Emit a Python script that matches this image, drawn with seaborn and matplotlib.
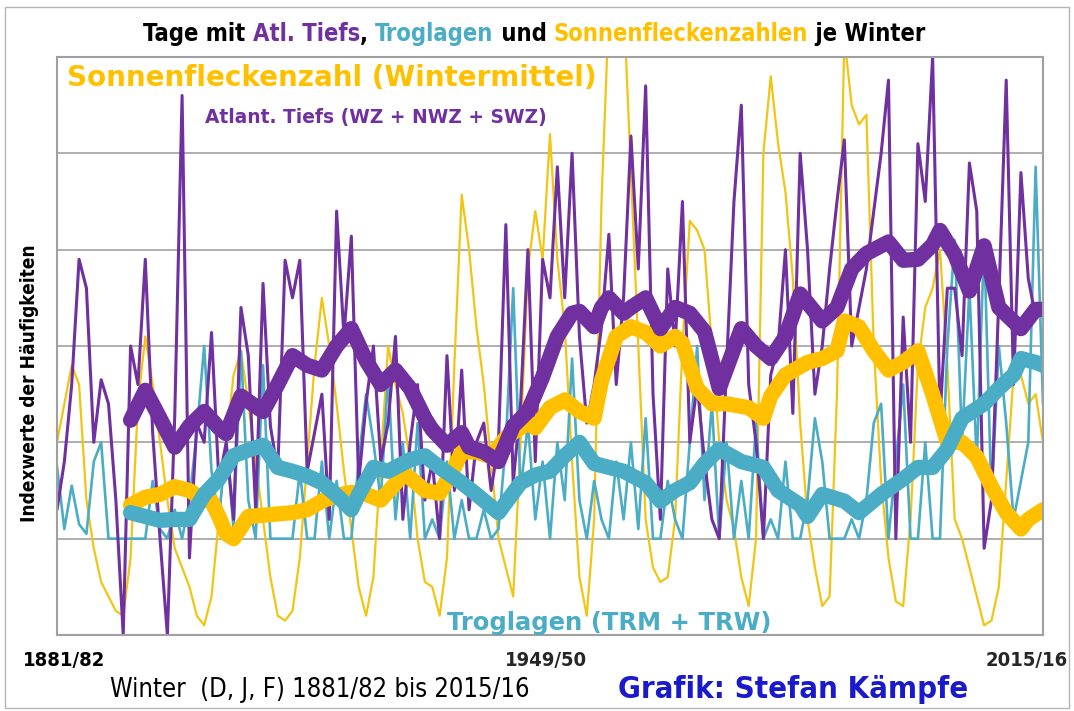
import numpy as np
import seaborn as sns
import matplotlib
matplotlib.use("Agg")
import matplotlib.pyplot as plt
from matplotlib.patches import Rectangle

# Winter (D, J, F) 1881/82 ... 2015/16, x = start year of the winter
jahre = np.arange(1881, 2016)

# thin lines, index values (grid lines every 10)
sonnenflecken = [
    20, 24, 28, 26, 14, 9, 5.5, 4, 2.5, 2,
    8, 24, 31, 26, 20, 14, 9, 7, 5, 2,
    1, 4, 12, 20, 27, 29.5, 24, 18, 12, 6,
    2, 1.5, 2.5, 8, 18, 28, 35, 30, 24, 17,
    11, 5, 2, 6, 18, 30, 26, 23, 18, 10,
    5.5, 5, 2, 8, 28, 45.7, 40, 32, 26, 18,
    10, 7, 4, 20, 38, 44, 39, 52, 39, 32,
    18, 6, 2, 12, 45, 65, 75, 66, 48, 30,
    12, 7, 5.5, 6, 12, 30, 43, 42, 40, 30,
    20, 14, 11, 6, 3, 10, 50, 58, 51, 46,
    37, 22, 12, 7, 3, 4, 25, 62, 55, 53,
    54, 30, 16, 8, 3.5, 3, 12, 28, 34, 36,
    40, 28, 12, 10, 7, 4, 1, 1.5, 5, 16,
    27, 27, 24, 25, 20,
]
atl_tiefs = [
    13, 18, 26, 39, 36, 20, 26.5, 24, 14, 0,
    30, 26, 39, 21, 10, 0, 22.7, 56, 8, 22,
    20, 31.4, 16, 20, 12, 34, 29, 13, 36.5, 21.7,
    17, 38.9, 35, 38.9, 17, 21, 25, 12, 44, 31,
    41.4, 15.8, 24, 30, 18, 22, 31, 12, 20, 26,
    14, 18, 10, 29, 15, 27.5, 13, 20, 22, 15,
    20, 42.6, 15.8, 24, 40, 18, 39, 35, 48.6, 35,
    50, 31, 22, 26, 32, 41.6, 26, 35, 51.8, 38,
    57, 25, 12, 38, 30, 45, 20, 26, 18, 12,
    10, 28, 45, 55, 26, 20, 10, 27, 30, 40,
    23, 50, 40, 25, 30, 38, 45, 51.4, 30, 34,
    38, 44, 50, 57.6, 10, 33, 20, 51, 45, 60,
    22.5, 36, 36, 29, 49, 44, 9, 14, 35, 57.6,
    26, 48, 37, 33, 34,
]
troglagen = [
    17.5, 11, 15.5, 11.5, 10.5, 18, 20, 10, 10, 10,
    10, 10, 10, 16, 11, 10, 13, 10, 14, 21,
    30, 17, 12, 20, 11, 29.5, 14, 10, 28, 10,
    10, 10, 10, 17, 10, 10, 18, 10, 16, 10,
    10, 18, 25, 20, 14, 27, 12, 20, 10, 22,
    10, 12, 10, 18, 10, 14, 10, 10, 13, 10,
    11, 20, 36, 15, 22, 12, 18, 10, 20, 14,
    28.7, 14, 10, 16, 12, 10, 18, 12, 20, 11,
    22.5, 10, 10, 16, 12, 10, 20, 30, 14, 24,
    10, 20, 10, 16, 10, 22, 10, 12, 10, 18,
    10, 10, 14, 22.5, 18, 10, 10, 10, 12, 10,
    14, 22, 24, 10, 18, 26, 10, 10, 20, 10,
    10, 30, 41, 20, 36, 18, 41, 14, 30, 22,
    12, 16, 20, 48.6, 24,
]

# thick smoothed lines (years after 1881)
atl_glatt_j = [10, 12, 14, 16, 18, 20, 22, 23, 25, 28, 30, 32, 34, 36, 38, 40, 42, 44, 46, 48,
               50, 51, 53, 55, 56, 58, 60, 62, 64, 66, 68, 70, 71, 73, 74, 75, 77, 78, 80, 82,
               84, 86, 88, 90, 93, 95, 97, 99, 101, 104, 106, 108, 110, 113, 115, 117, 119, 120,
               122, 124, 126, 128, 131, 133, 134]
atl_glatt = [22.3, 25.4, 22.5, 19.5, 21.7, 23.2, 21.5, 20.9, 24.8, 23.2, 26, 29, 28, 27.5, 30,
             31.8, 28.5, 26, 27.5, 25.6, 22.5, 21.3, 19.7, 21, 19.5, 19, 18, 21.7, 23.2, 26.8,
             31, 33.4, 33.6, 32, 34, 35, 33.4, 34, 35, 31.8, 34, 33.4, 31.5, 25.6, 31.8, 30,
             28.7, 31, 35.4, 32.6, 34, 38, 39.6, 40.8, 38.9, 39, 40.5, 42, 39.5, 35.7, 40.4,
             34, 31.8, 33.8, 33.8]
sonne_glatt_j = [10, 12, 14, 16, 18, 20, 21, 22, 23, 24, 26, 29, 32, 34, 36, 38, 40, 42, 44, 47,
                 48, 50, 52, 54, 55, 57, 59, 61, 64, 65, 67, 69, 71, 73, 74, 76, 78, 80, 82, 84,
                 85, 87, 89, 91, 94, 96, 97, 99, 102, 104, 106, 107, 109, 111, 113, 115, 117,
                 119, 121, 123, 125, 127, 129, 131, 132, 134]
sonne_glatt = [13.5, 14.3, 14.6, 15.4, 15, 14, 13.9, 12.3, 10.5, 10, 12.3, 12.5, 12.7, 13, 13.9,
               14.5, 14.8, 14.6, 14, 16.6, 16.3, 15, 14.7, 17.4, 19, 19, 18.5, 20.5, 22, 21.5,
               23.6, 24.4, 23.2, 22.5, 26.4, 31, 32, 31.4, 30, 31, 30.3, 25.6, 24, 24, 23.6,
               22.5, 24.8, 27, 28.3, 28.7, 29.5, 32.6, 32, 29.5, 27.5, 28.3, 29.5, 25, 20, 20,
               18.5, 15.4, 12.7, 11, 12, 13]
trog_glatt_j = [10, 12, 14, 16, 18, 20, 22, 24, 26, 28, 30, 32, 34, 36, 38, 40, 41, 43, 45, 48,
                50, 52, 55, 57, 60, 63, 65, 67, 69, 71, 73, 75, 77, 80, 82, 84, 86, 88, 90, 93,
                96, 98, 101, 102, 104, 107, 109, 112, 115, 117, 119, 121, 123, 126, 128, 130,
                131, 133, 134]
trog_glatt = [12.7, 12.3, 11.9, 12, 12, 14.6, 16.2, 18.6, 19.2, 19.7, 17.4, 17, 16.5, 15.8, 14.5,
              13, 14.6, 17.4, 17, 18.2, 18.6, 17.4, 15.8, 14.6, 12.7, 15.8, 16.6, 17, 18.6, 20,
              17.8, 17.4, 17, 15.8, 13.9, 15, 15.8, 17.8, 19.3, 18, 17.4, 15, 13.5, 12.3, 14.6,
              13.9, 12.7, 14.6, 16.2, 17.4, 17.4, 19.3, 22.5, 24, 25.6, 27, 28.7, 28.3, 28]

LILA = "#7030a0"
TUERKIS = "#4bacc6"
GELB = "#ffc000"
GELB_DUENN = "#f2c414"

W, H = 1074, 711
sns.set_style("white")
plt.rcParams["font.family"] = ["Liberation Sans", "DejaVu Sans"]

fig = plt.figure(figsize=(W / 100, H / 100), dpi=100)
ax = fig.add_axes([57 / W, 1 - 635 / H, (1043 - 57) / W, (635 - 57) / H])

# thin yearly lines
sns.lineplot(x=jahre, y=sonnenflecken, color=GELB_DUENN, linewidth=1.6, ax=ax)
sns.lineplot(x=jahre, y=troglagen, color=TUERKIS, linewidth=1.9, ax=ax)
sns.lineplot(x=jahre, y=atl_tiefs, color=LILA, linewidth=2.2, ax=ax)

# thick smoothed lines
rund = dict(solid_capstyle="round", solid_joinstyle="round")
sns.lineplot(x=np.array(sonne_glatt_j) + 1881, y=sonne_glatt, color=GELB, linewidth=11, ax=ax, **rund)
sns.lineplot(x=np.array(trog_glatt_j) + 1881, y=trog_glatt, color=TUERKIS, linewidth=11, ax=ax, **rund)
sns.lineplot(x=np.array(atl_glatt_j) + 1881, y=atl_glatt, color=LILA, linewidth=11, ax=ax, **rund)

ax.set_xlim(1881, 2015)
ax.set_ylim(0, 60)
ax.set_yticks(range(0, 61, 10))
ax.set_xticks([])
ax.tick_params(left=False, labelleft=False)
ax.grid(axis="y", color="#a8a8a8", linewidth=1.3)
ax.set_axisbelow(True)
for s in ax.spines.values():
    s.set_color("#a0a0a0")
    s.set_linewidth(1.5)
ax.set_xlabel("")
ax.set_ylabel("")

r = fig.canvas.get_renderer()
NARROW = ["Liberation Sans Narrow", "DejaVu Sans", "Liberation Sans"]
HEAVY = ["DejaVu Sans"]


def put(s, x0, x1, yc, color, family=NARROW, weight="bold", rot=0, stretch="condensed"):
    # place text so that it spans x0..x1 (pixels), or the y-range when rotated
    t = fig.text(x0 / W, 1 - yc / H, s, ha="left", va="center", color=color,
                 fontsize=20, fontweight=weight, family=family, rotation=rot,
                 fontstretch=stretch)
    bb = t.get_window_extent(renderer=r)
    size = bb.height if rot else bb.width
    t.set_fontsize(20 * (x1 - x0) / size)
    if rot:
        t.set_ha("center")
    return t


def put_multi(parts, x0, x1, ybase, family=NARROW, weight="bold"):
    texts = [fig.text(0, 1 - ybase / H, s, color=c, fontsize=20, family=family,
                      fontweight=weight, va="baseline", fontstretch="condensed")
             for s, c in parts]
    total = sum(t.get_window_extent(renderer=r).width for t in texts)
    fs = 20 * (x1 - x0) / total
    x = x0
    for t in texts:
        t.set_fontsize(fs)
        t.set_x(x / W)
        x += t.get_window_extent(renderer=r).width


put_multi([("Tage mit ", "black"), ("Atl. Tiefs", LILA), (", ", "black"),
           ("Troglagen", TUERKIS), (" und ", "black"), ("Sonnenfleckenzahlen", GELB),
           (" je Winter", "black")], 143, 928, 41)

put("Sonnenfleckenzahl (Wintermittel)", 67, 597, 78, GELB, family=HEAVY, stretch="normal")
put("Atlant. Tiefs (WZ + NWZ + SWZ)", 205, 545, 118, LILA, family=HEAVY, stretch="normal")
put("Troglagen (TRM + TRW)", 447, 772, 623, TUERKIS, family=HEAVY, stretch="normal")

t = put("Indexwerte der Häufigkeiten", 245, 522, 383, "black", rot=90)
t.set_x(30 / W)

# year labels share one size
t0 = put("1881/82", 23, 105, 661, "black")
fs_jahr = t0.get_fontsize()
for s, xc in [("1949/50", 546), ("2015/16", 1027)]:
    fig.text(xc / W, 1 - 661 / H, s, ha="center", va="center", fontsize=fs_jahr,
             fontweight="bold", family=NARROW, fontstretch="condensed")

put("Winter  (D, J, F) 1881/82 bis 2015/16", 110, 530, 690, "black", weight="normal")
put("Grafik: Stefan Kämpfe", 618, 968, 690, "#1a1acc")

fig.patches.append(Rectangle((5 / W, 1 - 708 / H), 1064 / W, 701 / H, transform=fig.transFigure,
                             fill=False, edgecolor="#b4b4b4", linewidth=1))

fig.savefig("out.png", dpi=100, facecolor="white")
